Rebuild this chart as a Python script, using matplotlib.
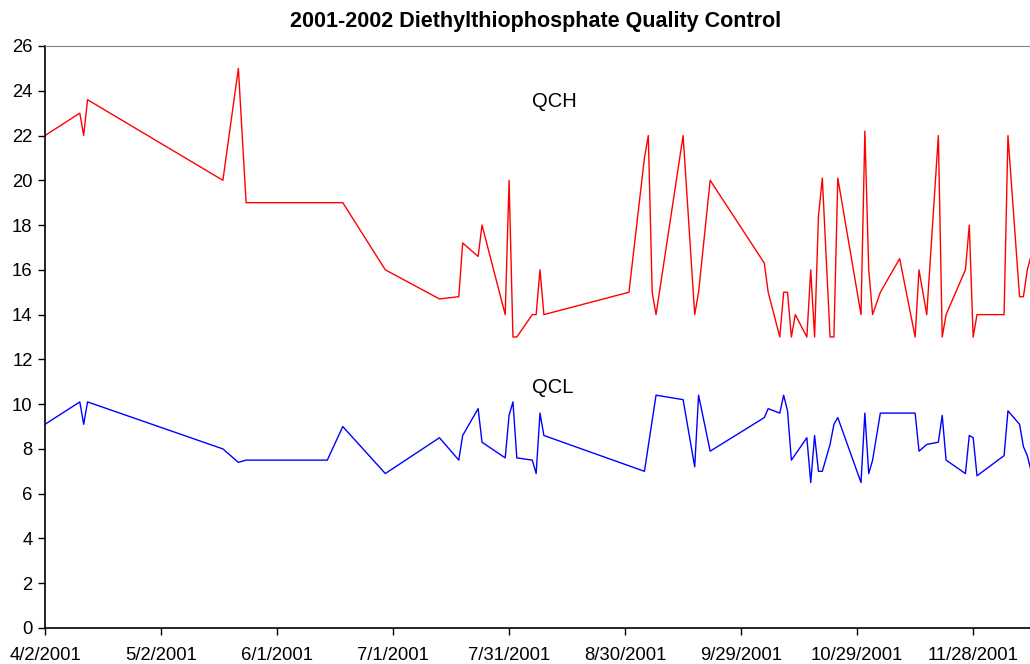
import pandas as pd
import matplotlib
matplotlib.use("Agg")
import matplotlib.pyplot as plt
from matplotlib.ticker import FuncFormatter

plt.rcParams['font.family'] = ['Liberation Sans', 'DejaVu Sans']

start = pd.Timestamp("2001-04-02")

# QCH (red) - days after 4/2/2001 and values
qch_days = [0, 9, 10, 11, 46, 50, 52, 77, 88, 102, 107, 108, 112, 113, 119, 120, 121, 122,
            126, 127, 128, 129, 151, 155, 156, 157, 158, 165, 168, 169, 172, 186, 187, 190,
            191, 192, 193, 194, 197, 198, 199, 200, 201, 203, 204, 205, 211, 212, 213, 214,
            216, 221, 225, 226, 228, 231, 232, 233, 238, 239, 240, 241, 248, 249, 252, 253,
            254, 256]
qch_vals = [22, 23, 22, 23.6, 20, 25, 19, 19, 16, 14.7, 14.8, 17.2, 16.6, 18, 14, 20, 13, 13,
            14, 14, 16, 14, 15, 21, 22, 15, 14, 22, 14, 15, 20, 16.3, 15, 13,
            15, 15, 13, 14, 13, 16, 13, 18.4, 20.1, 13, 13, 20.1, 14, 22.2, 16, 14,
            15, 16.5, 13, 16, 14, 22, 13, 14, 16, 18, 13, 14, 14, 22, 14.8, 14.8,
            16, 17.3]

# QCL (blue)
qcl_days = [0, 9, 10, 11, 46, 50, 52, 73, 77, 88, 102, 107, 108, 112, 113, 119, 120, 121, 122,
            126, 127, 128, 129, 155, 158, 165, 168, 169, 172, 186, 187, 190, 191, 192, 193,
            197, 198, 199, 200, 201, 203, 204, 205, 211, 212, 213, 214, 216, 225, 226, 228,
            231, 232, 233, 238, 239, 240, 241, 248, 249, 252, 253, 254, 256]
qcl_vals = [9.1, 10.1, 9.1, 10.1, 8.0, 7.4, 7.5, 7.5, 9.0, 6.9, 8.5, 7.5, 8.6, 9.8, 8.3, 7.6, 9.5, 10.1, 7.6,
            7.5, 6.9, 9.6, 8.6, 7.0, 10.4, 10.2, 7.2, 10.4, 7.9, 9.4, 9.8, 9.6, 10.4, 9.7, 7.5,
            8.5, 6.5, 8.6, 7.0, 7.0, 8.2, 9.1, 9.4, 6.5, 9.6, 6.9, 7.5, 9.6, 9.6, 7.9, 8.2,
            8.3, 9.5, 7.5, 6.9, 8.6, 8.5, 6.8, 7.7, 9.7, 9.1, 8.1, 7.7, 6.3]

qch_dates = start + pd.to_timedelta(qch_days, unit="D")
qcl_dates = start + pd.to_timedelta(qcl_days, unit="D")

fig = plt.figure(figsize=(10.3, 6.64), dpi=100)
ax = fig.add_axes([45 / 1030, 36 / 664, 985 / 1030, 582 / 664])

ax.plot(qch_dates, qch_vals, color="#ff0000", lw=1.0)
ax.plot(qcl_dates, qcl_vals, color="#0000ff", lw=1.0)

ax.set_xlim(start, start + pd.Timedelta(days=254.7))
ax.set_ylim(0, 26)
ax.set_yticks(range(0, 27, 2))

xt = [start + pd.Timedelta(days=30 * i) for i in range(9)]
ax.set_xticks(xt)


def fmt_date(v, pos):
    d = matplotlib.dates.num2date(v)
    return f"{d.month}/{d.day}/{d.year}"


ax.xaxis.set_major_formatter(FuncFormatter(fmt_date))

ax.tick_params(axis="both", labelsize=13.3, direction="out", length=5, width=1, color="black")
ax.tick_params(axis="x", pad=9)
ax.tick_params(axis="y", pad=4)

ax.spines["right"].set_visible(False)
ax.spines["top"].set_color("#808080")
ax.spines["left"].set_linewidth(1.2)
ax.spines["bottom"].set_linewidth(1.2)

ax.text(start + pd.Timedelta(days=131.6), 23.5, "QCH", fontsize=14.5, ha="center", va="center")
ax.text(start + pd.Timedelta(days=131.4), 10.75, "QCL", fontsize=14.5, ha="center", va="center")

fig.text(536 / 1030, 1 - 21 / 664, "2001-2002 Diethylthiophosphate Quality Control",
         fontsize=15.5, fontweight="bold", ha="center", va="center")

fig.savefig("out.png", dpi=100)
